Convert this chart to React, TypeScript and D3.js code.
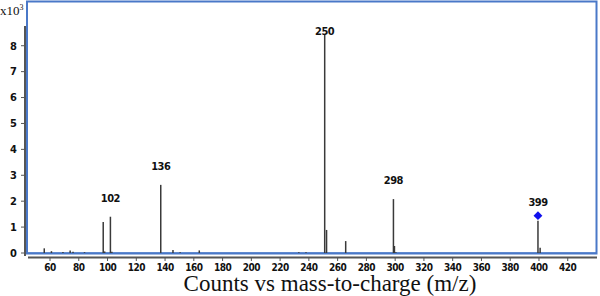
import React from "react";
import * as d3 from "d3";

const mzValues = [56, 61, 69, 74, 76, 84, 97, 98, 102, 103, 137, 145.5, 150.5, 163.8, 233, 238, 251, 252.3, 265.6, 298.8, 299.5, 300.5, 399.3, 400.8];
const countValues = [0.18, 0.07, 0.04, 0.1, 0.05, 0.03, 1.2, 0.06, 1.4, 0.05, 2.63, 0.12, 0.03, 0.1, 0.03, 0.03, 8.45, 0.89, 0.46, 2.08, 0.27, 0.03, 1.24, 0.2];
const labelIndex = [8, 10, 16, 19, 22];
const labelText = ["102", "136", "250", "298", "399"];
const precursorIndex = 22;
const precursorValue = 1.44;
const xTicks = [60, 80, 100, 120, 140, 160, 180, 200, 220, 240, 260, 280, 300, 320, 340, 360, 380, 400, 420];
const yTicks = [0, 1, 2, 3, 4, 5, 6, 7, 8];

export default function App() {
  const W = 600, H = 296;
  const x = d3.scaleLinear().domain([44, 440]).range([27, 596.5]);
  const y = d3.scaleLinear().domain([0, 8.8]).range([253, 25]);
  const tickFont = "'DejaVu Sans Condensed', 'DejaVu Sans', sans-serif";
  const diamond = d3.symbol().type(d3.symbolDiamond2).size(50)();
  return (
    <svg width={W} height={H} style={{ position: "absolute", left: 0, top: 0, background: "#fff" }}>
      {/* frame */}
      <rect x={27} y={1.5} width={569.5} height={252} fill="#fff" stroke="#4a78c8" strokeWidth={2} />
      {/* y axis */}
      <line x1={25} x2={25} y1={26} y2={256} stroke="#555" strokeWidth={2} />
      {yTicks.map((t) => (
        <g key={"y" + t}>
          <line x1={21} x2={25} y1={y(t)} y2={y(t)} stroke="#555" strokeWidth={1} />
          <text x={17} y={y(t)} dy="0.35em" textAnchor="end" fontFamily={tickFont} fontWeight="bold" fontSize={11} fill="#111">{t}</text>
        </g>
      ))}
      <text x={0} y={15} fontFamily="'Liberation Serif', serif" fontSize={13} fill="#111">
        x10<tspan dy={-5} fontSize={8}>3</tspan>
      </text>
      {/* x axis */}
      <line x1={28} x2={597} y1={257.5} y2={257.5} stroke="#555" strokeWidth={2} />
      {xTicks.map((t) => (
        <g key={"x" + t}>
          <line x1={x(t)} x2={x(t)} y1={257.5} y2={261} stroke="#555" strokeWidth={1} />
          <text x={x(t)} y={267} dy="0.35em" textAnchor="middle" fontFamily={tickFont} fontWeight="bold" fontSize={10} letterSpacing={-0.5} fill="#111">{t}</text>
        </g>
      ))}
      <text x={330} y={291} textAnchor="middle" fontFamily="'Liberation Serif', serif" fontSize={23} fill="#111">Counts vs mass-to-charge (m/z)</text>
      {/* baseline */}
      <line x1={28} x2={596} y1={y(0)} y2={y(0)} stroke="#4a78c8" strokeWidth={1.5} />
      {/* peaks */}
      {mzValues.map((m, i) => (
        <line key={"p" + i} x1={x(m)} x2={x(m)} y1={y(0)} y2={y(countValues[i])} stroke="#3a3a3a" strokeWidth={1.5} />
      ))}
      {/* precursor marker */}
      <path d={diamond} transform={`translate(${x(mzValues[precursorIndex])},${y(precursorValue)})`} fill="#1010ee" />
      {/* peak labels */}
      {labelIndex.map((idx, k) => {
        const ly = Math.max(y(countValues[idx]) - 19, 31);
        return (
          <text key={"l" + k} x={x(mzValues[idx])} y={ly} dy="0.35em" textAnchor="middle" fontFamily={tickFont} fontWeight="bold" fontSize={11} letterSpacing={-0.5} fill="#111">{labelText[k]}</text>
        );
      })}
    </svg>
  );
}
